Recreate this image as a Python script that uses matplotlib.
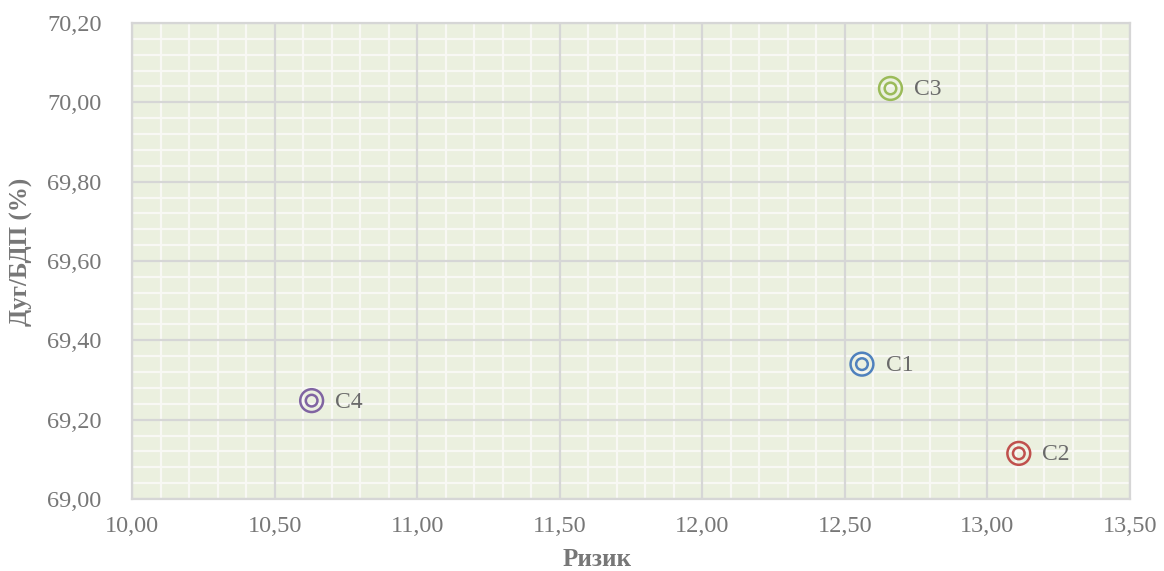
import numpy as np
import matplotlib.pyplot as plt
from matplotlib.ticker import MultipleLocator, FuncFormatter

# Ризик / Дуг-БДП за четири сценарија
labels = ['C1', 'C2', 'C3', 'C4']
rizik = [12.56, 13.11, 12.66, 10.63]
dug = [69.34, 69.115, 70.035, 69.248]
boi = ['#4F81BD', '#C0504D', '#9BBB59', '#8064A2']

plt.rcParams['font.family'] = ['Liberation Serif', 'DejaVu Serif']
siva = '#777777'

fig = plt.figure(figsize=(11.64, 5.71), dpi=100)
ax = fig.add_axes([132 / 1164, 1 - 499 / 571, 998 / 1164, 476 / 571])
ax.set_facecolor('#EBF0DF')

for x, y, c, lab in zip(rizik, dug, boi, labels):
    ax.scatter([x], [y], s=270, facecolors='none', edgecolors=c, linewidths=1.8, zorder=3)
    ax.scatter([x], [y], s=70, facecolors='none', edgecolors=c, linewidths=1.8, zorder=3)
    ax.annotate(lab, (x, y), xytext=(17, -1), textcoords='offset points',
                va='center', ha='left', fontsize=17, color='#6A6A6A')

ax.set_xlim(10, 13.5)
ax.set_ylim(69.0, 70.2)
ax.xaxis.set_major_locator(MultipleLocator(0.5))
ax.xaxis.set_minor_locator(MultipleLocator(0.1))
ax.yaxis.set_major_locator(MultipleLocator(0.2))
ax.yaxis.set_minor_locator(MultipleLocator(0.04))
fmt = FuncFormatter(lambda v, p: f'{v:.2f}'.replace('.', ','))
ax.xaxis.set_major_formatter(fmt)
ax.yaxis.set_major_formatter(fmt)

# ситна мрежа бела, главна мрежа сива преку неа
ax.grid(which='minor', color='#F8F8F4', linewidth=1.6, zorder=0)
ax.grid(which='major', visible=False)
ax.set_axisbelow(True)
for v in ax.get_xticks():
    ax.axvline(v, color='#D6D6D6', linewidth=1.6, zorder=1)
for v in ax.get_yticks():
    ax.axhline(v, color='#D6D6D6', linewidth=1.6, zorder=1)

for s in ax.spines.values():
    s.set_color('#D6D6D6')
    s.set_linewidth(1.6)

ax.tick_params(which='both', length=0, labelsize=17.5, labelcolor=siva)
ax.tick_params(axis='x', pad=12)
ax.tick_params(axis='y', pad=22)

ax.set_xlabel('Ризик', fontsize=18, fontweight='bold', color=siva)
ax.set_ylabel('Дуг/БДП (%)', fontsize=18, fontweight='bold', color=siva)
ax.xaxis.set_label_coords(0.466, -0.103)
ax.yaxis.set_label_coords(-0.099, 0.52)

fig.savefig('out.png', dpi=100)
